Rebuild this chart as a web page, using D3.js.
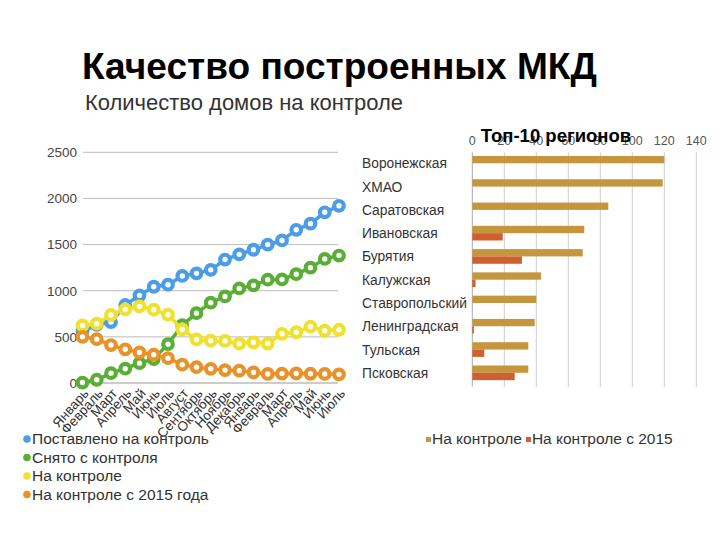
<!DOCTYPE html>
<html><head><meta charset="utf-8">
<script src="https://cdn.jsdelivr.net/npm/d3@7"></script>
<style>body{margin:0;background:#fff}svg{display:block}text{font-family:"Liberation Sans",Arial,sans-serif}</style>
</head><body><svg id="c" width="720" height="540"></svg>
<script>
// ---- Line chart data ----
const months = ["Январь","Февраль","Март","Апрель","Май","Июнь","Июль","Август","Сентябрь","Октябрь","Ноябрь","Декабрь","Январь","Февраль","Март","Апрель","Май","Июнь","Июль"];
const postavleno = [560,630,660,845,950,1043,1065,1160,1188,1226,1338,1394,1444,1500,1545,1660,1727,1850,1920];
const snyato = [5,35,107,155,215,260,421,627,757,870,938,1025,1058,1120,1122,1179,1250,1345,1381];
const naKontrole = [624,643,737,797,830,794,740,580,472,458,456,426,441,428,533,550,610,566,577];
const naKontrole2015 = [500,475,411,365,331,307,269,199,172,154,140,134,114,98,102,103,100,98,94];
const lineSeriesNames = ["Поставлено на контроль","Снято с контроля","На контроле","На контроле с 2015 года"];
const yTicks = [0,500,1000,1500,2000,2500];

// ---- Bar chart data ----
const regions = ["Воронежская","ХМАО","Саратовская","Ивановская","Бурятия","Калужская","Ставропольский","Ленинградская","Тульская","Псковская"];
const barNaKontrole = [120,119,85,70,69,43,40,39,35,35];
const barNaKontrole2015 = [0,0,0,19,31,2,0,1,7.5,26.5];
const barSeriesNames = ["На контроле","На контроле с 2015"];
const xTicks = [0,20,40,60,80,100,120,140];

const svg = d3.select("#c");
const lineColors = ["#4a9de6","#5aae35","#f0e12c","#e8922a"];
const barColors = ["#c6963f","#cf5f2f"];

function fitText(sel, width){
  const fs = parseFloat(sel.attr("font-size"));
  const w = sel.node().getComputedTextLength();
  sel.attr("font-size", fs*width/w);
}

// Titles
fitText(svg.append("text").attr("x",82).attr("y",79).attr("font-size",36).attr("font-weight","bold").attr("fill","#000").text("Качество построенных МКД"), 515);
fitText(svg.append("text").attr("x",85).attr("y",110).attr("font-size",21).attr("fill","#333").text("Количество домов на контроле"), 318);

// ---- Line chart ----
const x = d3.scalePoint().domain(d3.range(months.length)).range([82.5,339]);
const y = d3.scaleLinear().domain([0,2500]).range([383,152.3]);

const gl = svg.append("g");
gl.selectAll("line.grid").data(yTicks).join("line")
  .attr("x1",83).attr("x2",338).attr("y1",d=>y(d)).attr("y2",d=>y(d))
  .attr("stroke",d=>d===0?"#999":"#bbb").attr("stroke-width",1);
gl.selectAll("text.yl").data(yTicks).join("text")
  .attr("x",77).attr("y",d=>y(d)).attr("dy","0.36em").attr("text-anchor","end")
  .attr("font-size",13.5).attr("fill","#444").text(d=>d);
gl.selectAll("text.xl").data(months).join("text")
  .attr("transform",(d,i)=>`translate(${x(i)+7},${394}) rotate(-48)`)
  .attr("text-anchor","end").attr("font-size",13.5).attr("fill","#333").text(d=>d);

const allSeries = [postavleno,snyato,naKontrole,naKontrole2015];
const line = d3.line().x((d,i)=>x(i)).y(d=>y(d));
allSeries.forEach((s,k)=>{
  const g = gl.append("g");
  g.append("path").datum(s).attr("d",line).attr("fill","none").attr("stroke",lineColors[k]).attr("stroke-width",3.5);
  g.selectAll("circle").data(s).join("circle").attr("cx",(d,i)=>x(i)).attr("cy",d=>y(d))
    .attr("r",4.8).attr("fill","#fff").attr("stroke",lineColors[k]).attr("stroke-width",4.2);
});

// Legend left
const lg = svg.append("g");
lineSeriesNames.forEach((n,k)=>{
  const yy = 444 + k*18.5;
  lg.append("circle").attr("cx",27).attr("cy",yy-5).attr("r",3.8).attr("fill",lineColors[k]);
  lg.append("text").attr("x",32).attr("y",yy).attr("font-size",15.5).attr("fill","#333").text(n);
});

// ---- Bar chart ----
const bx = d3.scaleLinear().domain([0,140]).range([472.3,696.3]);
const by = d3.scaleBand().domain(regions).range([152.3,386.7]).paddingInner(0.37).paddingOuter(0.22).align(0.36);
const sub = d3.scaleBand().domain([0,1]).range([0,by.bandwidth()]);
const gb = svg.append("g");
gb.selectAll("line.bg").data(xTicks).join("line")
  .attr("x1",d=>bx(d)).attr("x2",d=>bx(d)).attr("y1",152.3).attr("y2",386.7)
  .attr("stroke",d=>d===0?"#aaa":"#ccc").attr("stroke-width",1);
gb.selectAll("text.bt").data(xTicks).join("text")
  .attr("x",d=>bx(d)).attr("y",145).attr("text-anchor","middle").attr("font-size",12.5).attr("fill","#555").text(d=>d);
gb.selectAll("text.rl").data(regions).join("text")
  .attr("x",362).attr("y",d=>by(d)+by.bandwidth()/2).attr("dy","0.36em")
  .attr("font-size",13.8).attr("fill","#333").text(d=>d);
[barNaKontrole,barNaKontrole2015].forEach((s,k)=>{
  gb.selectAll(null).data(s).join("rect")
    .attr("x",bx(0)).attr("y",(d,i)=>by(regions[i])+sub(k))
    .attr("width",d=>bx(d)-bx(0)).attr("height",sub.bandwidth())
    .attr("fill",barColors[k]);
});
svg.append("text").attr("x",556).attr("y",142).attr("text-anchor","middle").attr("font-size",18.5).attr("font-weight","bold").attr("fill","#000").text("Топ-10 регионов");

// Bar legend
const bl = svg.append("g");
let lx = 426;
barSeriesNames.forEach((n,k)=>{
  bl.append("rect").attr("x",lx).attr("y",437).attr("width",5).attr("height",5).attr("fill",barColors[k]);
  const t = bl.append("text").attr("x",lx+6).attr("y",443.5).attr("font-size",15.5).attr("fill","#333").text(n);
  lx += 6 + t.node().getComputedTextLength() + 4;
});
</script></body></html>
